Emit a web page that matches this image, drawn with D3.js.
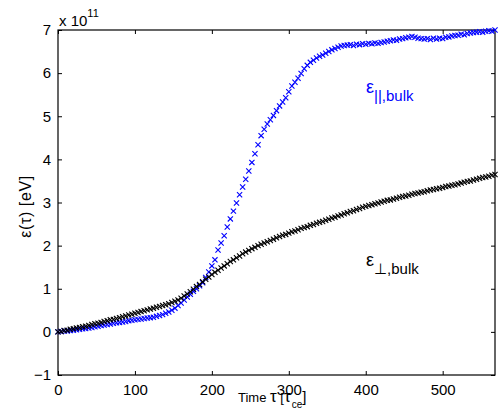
<!DOCTYPE html>
<html>
<head>
<meta charset="utf-8">
<script src="https://cdn.jsdelivr.net/npm/d3@7"></script>
<style>
  body { margin: 0; background: #fff; }
  text { font-family: "Liberation Sans", Arial, sans-serif; }
</style>
</head>
<body>
<div id="canvas"></div>
<script>
"use strict"

/* data: energies in units of 1e11 eV, sampled every 4 tau_ce */
let timeStep = 4;

let parallelBulk = [
0.00,0.01,0.02,0.02,0.03,0.04,0.05,0.06,0.07,0.08,
0.09,0.10,0.12,0.13,0.15,0.16,0.17,0.18,0.20,0.21,
0.22,0.23,0.24,0.26,0.27,0.28,0.29,0.30,0.31,0.32,
0.33,0.34,0.36,0.38,0.40,0.43,0.46,0.50,0.55,0.61,
0.67,0.74,0.81,0.87,0.94,1.00,1.07,1.14,1.26,1.39,
1.53,1.67,1.90,2.06,2.23,2.43,2.62,2.80,2.99,3.18,
3.36,3.54,3.73,3.93,4.13,4.34,4.55,4.70,4.82,4.92,
5.02,5.13,5.24,5.33,5.43,5.57,5.70,5.79,5.88,5.99,
6.10,6.18,6.25,6.30,6.35,6.39,6.42,6.46,6.50,6.54,
6.57,6.60,6.63,6.64,6.65,6.66,6.64,6.67,6.66,6.68,
6.67,6.69,6.68,6.70,6.69,6.71,6.72,6.74,6.75,6.77,
6.76,6.79,6.80,6.82,6.83,6.85,6.83,6.81,6.80,6.79,
6.80,6.78,6.81,6.79,6.81,6.80,6.83,6.84,6.86,6.87,
6.88,6.90,6.89,6.92,6.93,6.94,6.95,6.96,6.95,6.97,
6.98,6.97,7.00];

let perpBulk = [
0.00,0.01,0.03,0.04,0.06,0.07,0.09,0.10,0.12,0.13,
0.15,0.17,0.19,0.20,0.22,0.24,0.26,0.28,0.29,0.31,
0.33,0.35,0.37,0.39,0.41,0.43,0.45,0.47,0.49,0.51,
0.53,0.55,0.57,0.59,0.61,0.63,0.65,0.68,0.71,0.74,
0.78,0.83,0.88,0.93,0.99,1.05,1.10,1.16,1.22,1.27,
1.33,1.38,1.43,1.48,1.53,1.58,1.63,1.67,1.72,1.76,
1.81,1.85,1.89,1.93,1.96,2.00,2.03,2.06,2.09,2.12,
2.15,2.18,2.21,2.24,2.26,2.29,2.32,2.34,2.37,2.40,
2.42,2.44,2.47,2.49,2.52,2.54,2.56,2.59,2.61,2.64,
2.66,2.69,2.71,2.74,2.76,2.79,2.81,2.84,2.86,2.89,
2.91,2.93,2.95,2.97,2.99,3.01,3.03,3.05,3.06,3.08,
3.10,3.12,3.14,3.15,3.17,3.19,3.21,3.22,3.24,3.25,
3.27,3.29,3.30,3.32,3.33,3.35,3.37,3.38,3.40,3.41,
3.43,3.45,3.47,3.49,3.50,3.52,3.54,3.56,3.58,3.59,
3.61,3.63,3.65];

let xTicks = [0, 100, 200, 300, 400, 500];
let yTicks = [-1, 0, 1, 2, 3, 4, 5, 6, 7];

let drawing = d3.select("#canvas")
    .append("svg")
    .attr("width", 498)
    .attr("height", 410);

/* plot box */
let boxLeft = 58, boxRight = 495, boxTop = 30, boxBottom = 375;

let x = d3.scaleLinear().domain([0, 568]).range([boxLeft, boxRight]);
let y = d3.scaleLinear().domain([-1, 7]).range([boxBottom, boxTop]);

/* MATLAB style: ticks inside, on all four sides */
let tickLen = 4;

let xAxisBottom = drawing.append("g")
    .attr("transform", "translate(0," + boxBottom + ")")
    .call(d3.axisBottom(x).tickValues(xTicks).tickSizeInner(-tickLen).tickSizeOuter(0).tickPadding(9));
let xAxisTop = drawing.append("g")
    .attr("transform", "translate(0," + boxTop + ")")
    .call(d3.axisTop(x).tickValues(xTicks).tickSizeInner(-tickLen).tickSizeOuter(0).tickFormat(""));
let yAxisLeft = drawing.append("g")
    .attr("transform", "translate(" + boxLeft + ",0)")
    .call(d3.axisLeft(y).tickValues(yTicks).tickSizeInner(-tickLen).tickSizeOuter(0).tickPadding(7)
        .tickFormat(d => d < 0 ? "\u2212" + Math.abs(d) : d));
let yAxisRight = drawing.append("g")
    .attr("transform", "translate(" + boxRight + ",0)")
    .call(d3.axisRight(y).tickValues(yTicks).tickSizeInner(-tickLen).tickSizeOuter(0).tickFormat(""));

drawing.selectAll(".domain").remove();
drawing.selectAll(".tick line").attr("stroke", "black").attr("stroke-width", 1);
drawing.selectAll(".tick text")
    .attr("font-size", 15)
    .attr("font-family", "Liberation Sans, Arial, sans-serif")
    .attr("fill", "black");

let box = drawing.append("rect")
    .attr("x", boxLeft)
    .attr("y", boxTop)
    .attr("width", boxRight - boxLeft)
    .attr("height", boxBottom - boxTop)
    .attr("fill", "none")
    .attr("stroke", "black")
    .attr("stroke-width", 1.2);

/* x markers */
function drawCrosses(values, colour) {
    let s = 2.6;
    drawing.append("g")
        .selectAll("path")
        .data(values)
        .join("path")
        .attr("d", (d, i) => {
            let cx = x(i * timeStep), cy = y(d);
            return "M" + (cx - s) + "," + (cy - s) + "L" + (cx + s) + "," + (cy + s) +
                   "M" + (cx - s) + "," + (cy + s) + "L" + (cx + s) + "," + (cy - s);
        })
        .attr("stroke", colour)
        .attr("stroke-width", 1.1)
        .attr("fill", "none");
}

drawCrosses(parallelBulk, "#0000ff");
drawCrosses(perpBulk, "#000000");

/* exponent label */
let expo = drawing.append("text")
    .attr("x", 59)
    .attr("y", 26)
    .attr("font-size", 15);
expo.append("tspan").text("x 10");
expo.append("tspan").attr("font-size", 11).attr("dy", -9).text("11");

/* axis labels */
let xLabel = drawing.append("text")
    .attr("x", 238)
    .attr("y", 402)
    .attr("font-size", 13);
xLabel.append("tspan").text("Time ");
xLabel.append("tspan").attr("font-size", 17).text("\u03c4");
xLabel.append("tspan").text(" [");
xLabel.append("tspan").attr("font-size", 17).text("\u03c4");
xLabel.append("tspan").attr("font-size", 10).attr("dx", 1).attr("dy", 6).text("ce");
xLabel.append("tspan").attr("dy", -6).attr("font-size", 15).text("]");

let yLabel = drawing.append("text")
    .attr("transform", "translate(31," + ((boxTop + boxBottom) / 2 + 4) + ") rotate(-90)")
    .attr("text-anchor", "middle")
    .attr("font-size", 16)
    .attr("letter-spacing", 0.6)
    .text("\u03b5(\u03c4) [eV]");

/* series annotations */
let parLabel = drawing.append("text")
    .attr("x", 366)
    .attr("y", 93)
    .attr("fill", "#0000ff")
    .attr("font-size", 18);
parLabel.append("tspan").text("\u03b5");
parLabel.append("tspan").attr("font-size", 15).attr("dy", 8).text("||,bulk");

let perpLabel = drawing.append("text")
    .attr("x", 366)
    .attr("y", 266)
    .attr("fill", "black")
    .attr("font-size", 18);
perpLabel.append("tspan").text("\u03b5");
perpLabel.append("tspan").attr("font-size", 15).attr("dy", 8).text("\u22a5,bulk");
</script>
</body>
</html>
